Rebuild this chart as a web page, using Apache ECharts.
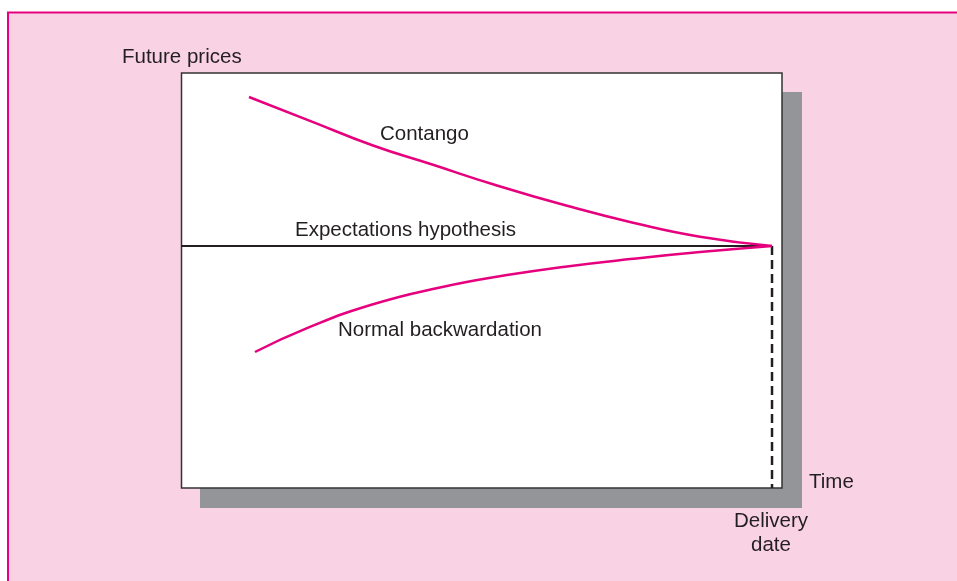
<!DOCTYPE html>
<html>
<head>
<meta charset="utf-8">
<script src="https://cdn.jsdelivr.net/npm/echarts@6/dist/echarts.min.js"></script>
<style>
html,body{margin:0;padding:0;background:#ffffff;}
#chart{width:957px;height:581px;}
</style>
</head>
<body>
<div id="chart"></div>
<script>
// Data (time 0-100 across the box, price 0-100 bottom to top)
const contangoTime   = [11.31, 21.46, 31.95, 41.93, 51.91, 64.23, 75.21, 86.36, 98.34];
const contangoPrice  = [94.22, 88.48, 82.53, 77.88, 73.20, 68.00, 63.93, 60.55, 58.31];
const backwardTime   = [12.31, 20.97, 31.95, 43.09, 54.24, 64.23, 75.21, 86.36, 98.34];
const backwardPrice  = [32.77, 38.53, 44.27, 48.31, 51.30, 53.40, 55.23, 56.84, 58.31];
const expectTime     = [0, 98.34];
const expectPrice    = [58.31, 58.31];
const deliveryTime   = [98.34, 98.34];
const deliveryPrice  = [58.31, 0];
const axisNames      = ["Future prices", "Time"];
const curveNames     = ["Contango", "Expectations hypothesis", "Normal backwardation"];
const deliveryLabel  = "Delivery\ndate";

const zip = (a, b) => a.map((v, i) => [v, b[i]]);
const MAG = '#e6007e', INK = '#231f20', PINK = '#f9d3e4';
const FONT = '20.5px "Liberation Sans", Arial, Helvetica, sans-serif';

const chart = echarts.init(document.getElementById('chart'));
chart.setOption({
  animation: false,
  grid: { left: 181, top: 73, right: 175, bottom: 93, show: false },
  xAxis: { type: 'value', min: 0, max: 100, show: false },
  yAxis: { type: 'value', min: 0, max: 100, show: false },
  graphic: [
    { type: 'rect', z: -3, shape: { x: 8, y: 12, width: 960, height: 580 }, style: { fill: PINK } },
    { type: 'polyline', z: -2, shape: { points: [[8, 590], [8, 12.5], [960, 12.5]] }, style: { stroke: MAG, lineWidth: 2, fill: null } },
    { type: 'rect', z: -1, shape: { x: 200, y: 92, width: 602, height: 416 }, style: { fill: '#939598' } },
    { type: 'rect', z: 0, shape: { x: 181.5, y: 73, width: 600.5, height: 415 }, style: { fill: '#ffffff', stroke: '#333333', lineWidth: 1.5 } },
    { type: 'text', z: 5, x: 122, y: 57, style: { text: axisNames[0], fill: INK, font: FONT, textVerticalAlign: 'middle' } },
    { type: 'text', z: 5, x: 809, y: 482, style: { text: axisNames[1], fill: INK, font: FONT, textVerticalAlign: 'middle' } },
    { type: 'text', z: 5, x: 380, y: 134, style: { text: curveNames[0], fill: INK, font: FONT, textVerticalAlign: 'middle' } },
    { type: 'text', z: 5, x: 295, y: 230, style: { text: curveNames[1], fill: INK, font: FONT, textVerticalAlign: 'middle' } },
    { type: 'text', z: 5, x: 338, y: 330, style: { text: curveNames[2], fill: INK, font: FONT, textVerticalAlign: 'middle' } },
    { type: 'text', z: 5, x: 771, y: 533, style: { text: deliveryLabel, fill: INK, font: FONT, textAlign: 'center', textVerticalAlign: 'middle', lineHeight: 24 } }
  ],
  series: [
    { type: 'line', z: 3, data: zip(expectTime, expectPrice), showSymbol: false, symbol: 'none',
      lineStyle: { color: INK, width: 2 } },
    { type: 'line', z: 3, data: zip(deliveryTime, deliveryPrice), showSymbol: false, symbol: 'none',
      lineStyle: { color: INK, width: 2.5, type: [9, 5] } },
    { type: 'line', z: 4, data: zip(contangoTime, contangoPrice), smooth: 0.5, showSymbol: false, symbol: 'none',
      lineStyle: { color: MAG, width: 2.5 } },
    { type: 'line', z: 4, data: zip(backwardTime, backwardPrice), smooth: 0.5, showSymbol: false, symbol: 'none',
      lineStyle: { color: MAG, width: 2.5 } }
  ]
});
</script>
</body>
</html>
